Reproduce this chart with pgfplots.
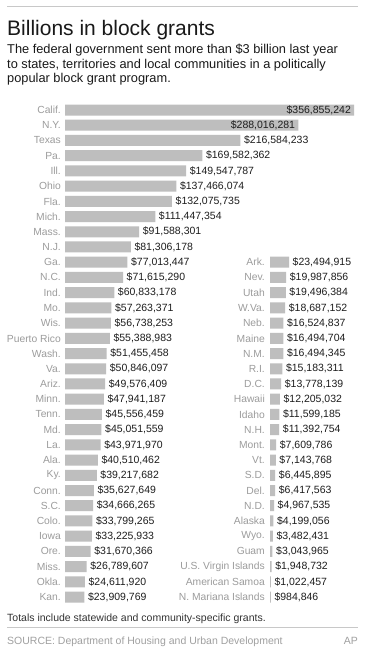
\documentclass[border=0pt]{standalone}
\usepackage{fontspec}
\setmainfont{Liberation Sans}
\usepackage{pgfplots}
\usepackage{pgfplotstable}
\pgfplotsset{compat=1.18}
\definecolor{bargray}{HTML}{BEBEBE}
\definecolor{labgray}{HTML}{9C9C9C}
\definecolor{valblack}{HTML}{1E1E1E}
\definecolor{rulegray}{HTML}{C8C8C8}
\definecolor{srcgray}{HTML}{A0A0A0}

\pgfplotstableread{
i v lab
0 356.855242 356,855,242
1 288.016281 288,016,281
}\leftin

\pgfplotstableread{
i v lab
2 216.584233 216,584,233
3 169.582362 169,582,362
4 149.547787 149,547,787
5 137.466074 137,466,074
6 132.075735 132,075,735
7 111.447354 111,447,354
8 91.588301 91,588,301
9 81.306178 81,306,178
10 77.013447 77,013,447
11 71.615290 71,615,290
12 60.833178 60,833,178
13 57.263371 57,263,371
14 56.738253 56,738,253
15 55.388983 55,388,983
16 51.455458 51,455,458
17 50.846097 50,846,097
18 49.576409 49,576,409
19 47.941187 47,941,187
20 45.556459 45,556,459
21 45.051559 45,051,559
22 43.971970 43,971,970
23 40.510462 40,510,462
24 39.217682 39,217,682
25 35.627649 35,627,649
26 34.666265 34,666,265
27 33.799265 33,799,265
28 33.225933 33,225,933
29 31.670366 31,670,366
30 26.789607 26,789,607
31 24.611920 24,611,920
32 23.909769 23,909,769
}\leftout

\pgfplotstableread{
i v lab
10 23.494915 23,494,915
11 19.987856 19,987,856
12 19.496384 19,496,384
13 18.687152 18,687,152
14 16.524837 16,524,837
15 16.494704 16,494,704
16 16.494345 16,494,345
17 15.183311 15,183,311
18 13.778139 13,778,139
19 12.205032 12,205,032
20 11.599185 11,599,185
21 11.392754 11,392,754
22 7.609786 7,609,786
23 7.143768 7,143,768
24 6.445895 6,445,895
25 6.417563 6,417,563
26 4.967535 4,967,535
27 4.199056 4,199,056
28 3.482431 3,482,431
29 3.043965 3,043,965
30 1.948732 1,948,732
31 1.022457 1,022,457
32 0.984846 984,846
}\rightdata

\pgfplotsset{
  blockaxis/.style={
    xbar, bar width=11pt, bar shift=0pt,
    x=0.81pt, y=15.22pt, y dir=reverse,
    xmin=0, ymin=-0.5, ymax=32.5,
    axis line style={draw=none},
    xtick=\empty, major tick length=0pt,
    ytick style={draw=none},
    yticklabel style={font=\fontsize{10.3}{12}\selectfont, text=labgray, anchor=east, inner sep=0pt},
    clip=false, anchor=north west,
  },
  valout/.style={
    fill=bargray, draw=none,
    point meta=explicit symbolic,
    nodes near coords={\$\pgfplotspointmeta},
    nodes near coords style={font=\fontsize{10.5}{12}\selectfont, text=valblack, inner sep=0pt, anchor=west, xshift=3.5pt},
  },
  valin/.style={
    fill=bargray, draw=none,
    point meta=explicit symbolic,
    nodes near coords={\$\pgfplotspointmeta},
    nodes near coords style={font=\fontsize{10.5}{12}\selectfont, text=valblack, inner sep=0pt, anchor=east, xshift=-3pt},
  },
}

\begin{document}
\begin{tikzpicture}
\path[use as bounding box, fill=white] (0pt,0pt) rectangle (369pt,-650pt);

\draw[line width=1pt, rulegray] (7pt,-6.7pt) -- (358pt,-6.7pt);
\node[anchor=base west, inner sep=0pt, font=\fontsize{21}{24}\selectfont, text=black!90] at (7pt,-35.5pt) {Billions in block grants};
\node[anchor=base west, inner sep=0pt, font=\fontsize{12.8}{14}\selectfont, text=black!90] at (7pt,-54pt) {The federal government sent more than \$3 billion last year};
\node[anchor=base west, inner sep=0pt, font=\fontsize{12.8}{14}\selectfont, text=black!90] at (7pt,-68.2pt) {to states, territories and local communities in a politically};
\node[anchor=base west, inner sep=0pt, font=\fontsize{12.8}{14}\selectfont, text=black!90] at (7pt,-82.4pt) {popular block grant program.};

\begin{axis}[blockaxis, at={(65pt,-102.4pt)}, xmax=360,
  ytick={0,...,32},
  yticklabel style={xshift=-4pt},
  yticklabels={Calif.,N.Y.,Texas,Pa.,Ill.,Ohio,Fla.,Mich.,Mass.,N.J.,Ga.,N.C.,Ind.,Mo.,Wis.,Puerto Rico,Wash.,Va.,Ariz.,Minn.,Tenn.,Md.,La.,Ala.,Ky.,Conn.,S.C.,Colo.,Iowa,Ore.,Miss.,Okla.,Kan.}]
\addplot[valin] table[x=v, y=i, meta=lab] {\leftin};
\addplot[valout] table[x=v, y=i, meta=lab] {\leftout};
\end{axis}

\begin{axis}[blockaxis, at={(270pt,-102.4pt)}, xmax=100,
  ytick={10,...,32},
  yticklabel style={xshift=-5pt},
  yticklabels={Ark.,Nev.,Utah,W.Va.,Neb.,Maine,N.M.,R.I.,D.C.,Hawaii,Idaho,N.H.,Mont.,Vt.,S.D.,Del.,N.D.,Alaska,Wyo.,Guam,U.S. Virgin Islands,American Samoa,N. Mariana Islands}]
\addplot[valout] table[x=v, y=i, meta=lab] {\rightdata};
\end{axis}

\node[anchor=base west, inner sep=0pt, font=\fontsize{10.5}{12}\selectfont, text=black!80] at (7pt,-621.5pt) {Totals include statewide and community-specific grants.};
\draw[line width=1.5pt, rulegray] (7pt,-627.7pt) -- (358pt,-627.7pt);
\node[anchor=base west, inner sep=0pt, font=\fontsize{10.5}{12}\selectfont, text=srcgray] at (7pt,-644.5pt) {SOURCE: Department of Housing and Urban Development};
\node[anchor=base east, inner sep=0pt, font=\fontsize{10.5}{12}\selectfont, text=srcgray] at (358pt,-644.5pt) {AP};
\end{tikzpicture}
\end{document}
